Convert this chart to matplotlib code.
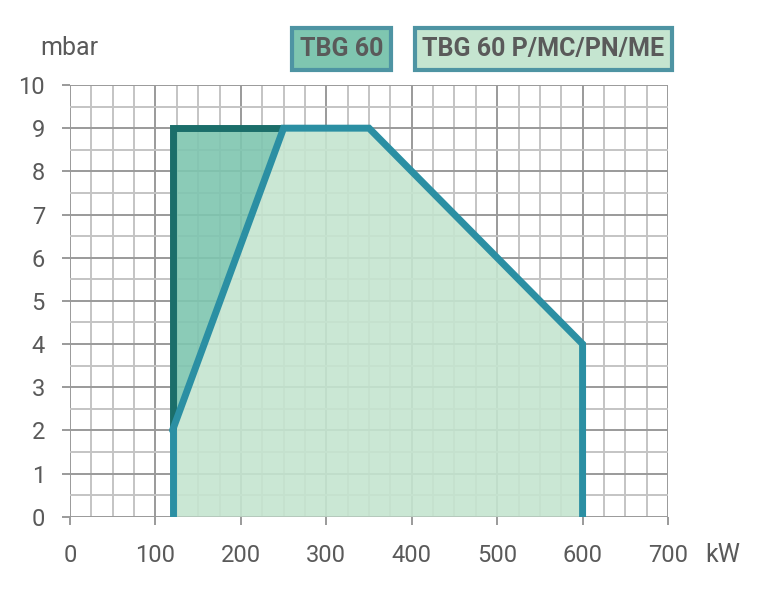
import matplotlib
matplotlib.use("Agg")
import matplotlib.pyplot as plt
from matplotlib.patches import Polygon, Rectangle

# working field outlines (kW, mbar)
tbg60_x = [120, 120, 250]
tbg60_y = [2, 9, 9]
pmc_x = [120, 120, 250, 350, 600, 600]
pmc_y = [0, 2, 9, 9, 4, 0]

x_ticks = [0, 100, 200, 300, 400, 500, 600, 700]
y_ticks = [0, 1, 2, 3, 4, 5, 6, 7, 8, 9, 10]
legend_labels = ["TBG 60", "TBG 60 P/MC/PN/ME"]

dark_fill = "#7fc6b0"
light_fill = "#c5e5d0"
dark_line = "#1b6e6a"
teal_line = "#2b8fa3"
box_edge = "#4e94a3"
txt = "#5a5a5a"

plt.rcParams['font.family'] = ['Roboto', 'DejaVu Sans']

W, H = 767, 600
fig = plt.figure(figsize=(W / 100, H / 100), dpi=100)
ax = fig.add_axes([70 / W, 83.3 / H, 598 / W, 431.7 / H])

ax.set_xlim(0, 700)
ax.set_ylim(0, 10)

# grid
for v in range(0, 701, 25):
    major = v % 100 == 0
    ax.axvline(v, color="#9a9a9a" if major else "#c4c4c4", lw=1.4, zorder=0)
for v in [i * 0.5 for i in range(21)]:
    major = v == int(v)
    ax.axhline(v, color="#9a9a9a" if major else "#c4c4c4", lw=1.4, zorder=0)

# light field
pts = list(zip(pmc_x, pmc_y))
ax.add_patch(Polygon(pts, closed=True, facecolor=light_fill, edgecolor="none", alpha=0.9, zorder=1))
# dark field
pts2 = list(zip(tbg60_x, tbg60_y))
ax.add_patch(Polygon(pts2, closed=True, facecolor=dark_fill, edgecolor="none", alpha=0.9, zorder=2))

ax.plot(tbg60_x, tbg60_y, color=dark_line, lw=5, solid_capstyle='butt', solid_joinstyle='miter', zorder=3)
ax.plot(pmc_x[1:], pmc_y[1:], color=teal_line, lw=5, solid_capstyle='round', solid_joinstyle='miter', zorder=4)
ax.plot(pmc_x[:2], pmc_y[:2], color=teal_line, lw=5, solid_capstyle='round', zorder=4)

for s in ax.spines.values():
    s.set_visible(False)

ax.set_xticks(x_ticks)
ax.set_yticks(y_ticks)
ax.set_xticklabels([str(v) for v in x_ticks])
ax.set_yticklabels([str(v) for v in y_ticks])
ax.tick_params(axis='both', length=6, width=1.4, color="#9a9a9a", labelcolor=txt, labelsize=17)
ax.tick_params(axis='x', pad=14)
ax.tick_params(axis='y', pad=12)

fig.text(40 / W, 1 - 48 / H, "mbar", fontsize=18, color=txt, va='center', ha='left')
fig.text(705 / W, 1 - 555 / H, "kW", fontsize=18, color=txt, va='center', ha='left')

# legend boxes (pixel positions from the top-left)
boxes = [(292, 28, 391, 70, dark_fill), (415, 28, 672, 70, light_fill)]
for (x0, y0, x1, y1, fc), label in zip(boxes, legend_labels):
    fig.patches.append(Rectangle((x0 / W, 1 - y1 / H), (x1 - x0) / W, (y1 - y0) / H,
                                 transform=fig.transFigure, facecolor=fc, edgecolor=box_edge,
                                 linewidth=3, zorder=5))
    fig.text((x0 + x1) / 2 / W, 1 - (y0 + y1) / 2 / H, label, fontsize=18, fontweight='bold',
             color=txt, ha='center', va='center', zorder=6)

fig.savefig("out.png", dpi=100)
